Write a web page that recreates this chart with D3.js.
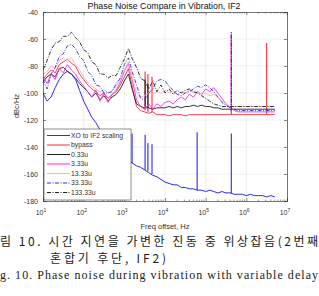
<!DOCTYPE html>
<html>
<head>
<meta charset="utf-8">
<script src="https://cdn.jsdelivr.net/npm/d3@7"></script>
<style>
body { margin: 0; background: #fff; }
svg { display: block; }
</style>
</head>
<body>
<div id="chart"></div>
<script>
// offset frequencies in Hz (shared by every trace)
const freqs = [
    10, 12.6, 15.8, 20, 25.1, 31.6, 39.8, 50.1, 63.1, 79.4,
    100, 126, 158, 200, 251, 316, 398, 501, 631, 794,
    1000, 1259, 1585, 1995, 2512, 3162, 3981, 5012, 6310, 7943,
    1e4, 12589, 15849, 19953, 25119, 31623, 39811, 50119, 63096, 79433,
    1e5, 125893, 158489, 199526, 251189, 316228, 398107, 501187, 630957, 794328,
    1e6, 1258925, 1584893, 1995262, 2511886, 3162278, 3981072, 5011872
];

const xo = [
    -100, -106, -103, -96, -90, -86, -84, -86, -90, -98,
    -106, -112, -118, -122, -127, -133, -137, -140, -143, -146,
    -148, -150, -152, -154, -155, -157, -159, -161, -162, -164,
    -166, -167, -168, -168, -170, -170, -171, -171, -172, -172,
    -173, -172, -173, -174, -173, -174, -174, -175, -175, -175,
    -176, -175, -176, -176, -176, -177, -176, -177
];
const bypass = [
    -90, -86, -83, -85, -79, -77, -75, -78, -80, -86,
    -90, -94, -97, -99, -102, -100, -104, -101, -99, -94,
    -88, -82, -96, -110, -113, -114, -115, -114, -116, -116,
    -116, -117, -116, -116, -116, -117, -116, -116, -116, -116,
    -116, -116, -116, -116, -116, -116, -116, -116, -116, -116,
    -116, -116, -116, -116, -116, -116, -116, -116
];
const d033 = [
    -92, -88, -86, -88, -82, -81, -84, -86, -89, -93,
    -96, -99, -103, -100, -105, -102, -106, -103, -101, -97,
    -91, -86, -98, -108, -110, -111, -111, -112, -111, -111,
    -111, -110, -111, -110, -111, -110, -110, -109, -110, -109,
    -110, -110, -111, -111, -112, -112, -112, -112, -112, -112,
    -112, -112, -112, -112, -112, -112, -112, -112
];
const d333 = [
    -88, -93, -86, -90, -82, -85, -79, -83, -86, -91,
    -95, -99, -103, -98, -106, -100, -107, -101, -98, -92,
    -84, -78, -91, -105, -110, -112, -108, -112, -108, -110,
    -107, -106, -108, -105, -103, -105, -101, -103, -99, -101,
    -97, -99, -96, -100, -104, -108, -111, -113, -114, -114,
    -114, -114, -114, -114, -114, -114, -114, -114
];
const d1333 = [
    -86, -84, -80, -82, -76, -74, -77, -74, -79, -83,
    -88, -92, -95, -97, -99, -97, -100, -98, -95, -90,
    -83, -77, -89, -100, -103, -102, -100, -101, -99, -100,
    -98, -100, -99, -101, -99, -100, -98, -100, -99, -101,
    -100, -102, -101, -103, -106, -108, -110, -110, -110, -110,
    -110, -110, -110, -110, -110, -110, -110, -110
];
const d3333 = [
    -90, -97, -86, -81, -73, -71, -65, -64, -67, -73,
    -76, -84, -87, -94, -95, -100, -100, -99, -93, -89,
    -79, -74, -85, -94, -104, -105, -100, -97, -91, -90,
    -91, -95, -98, -101, -102, -100, -99, -97, -95, -96,
    -94, -96, -99, -103, -107, -109, -111, -112, -113, -113,
    -113, -113, -113, -113, -113, -113, -113, -113
];
const d13333 = [
    -83, -76, -68, -63, -62, -58, -58, -55, -59, -62,
    -68, -70, -77, -79, -86, -86, -89, -87, -87, -81,
    -75, -67, -75, -81, -89, -91, -97, -91, -99, -94,
    -100, -97, -101, -98, -100, -98, -97, -99, -100, -102,
    -104, -106, -108, -109, -110, -110, -110, -110, -110, -110,
    -110, -110, -110, -110, -110, -110, -110, -110
];

// spurs: [freq Hz, floor dB, peak dB]
const xoSpurs = [[1550, -152, -130], [3240, -157, -131], [3800, -158, -137], [4790, -160, -138], [61700, -172, -129], [427000, -174, -130]];
const bypassSpurs = [[3240, -113, -84], [3800, -114, -86], [4790, -114, -88], [427000, -116, -58], [3162000, -116, -63]];
const d033Spurs = [[3240, -110, -90], [3800, -111, -93]];
const d333Spurs = [[427000, -114, -56]];
const d3333Spurs = [[427000, -113, -54]];

const names = ["XO to IF2 scaling", "bypass", "0.33u", "3.33u", "13.33u", "33.33u", "133.33u"];
const yTicks = [-40, -60, -80, -100, -120, -140, -160, -180];
const xTicks = [1e1, 1e2, 1e3, 1e4, 1e5, 1e6, 1e7];

const series = [
    { name: names[0], values: xo, spurs: xoSpurs, color: "#2b2bea", dash: null, w: 1 },
    { name: names[1], values: bypass, spurs: bypassSpurs, color: "#f2303a", dash: null, w: 0.9 },
    { name: names[2], values: d033, spurs: d033Spurs, color: "#1e1e1e", dash: null, w: 0.9 },
    { name: names[3], values: d333, spurs: d333Spurs, color: "#f22ee6", dash: null, w: 0.9 },
    { name: names[4], values: d1333, spurs: [], color: "#f6b2bd", dash: null, w: 0.9 },
    { name: names[5], values: d3333, spurs: d3333Spurs, color: "#2b2bea", dash: "4,1.5,1,1.5", w: 0.9 },
    { name: names[6], values: d13333, spurs: [], color: "#1e1e1e", dash: "4,1.5,1,1.5", w: 0.9 }
];

const width = 319, height = 296;
const pLeft = 43, pRight = 287, pTop = 12, pBottom = 201;

const svg = d3.select("#chart").append("svg")
    .attr("width", width)
    .attr("height", height)
    .style("font-family", "'Liberation Sans', Arial, sans-serif");

const x = d3.scaleLog().domain([10, 1e7]).range([pLeft, pRight]);
const y = d3.scaleLinear().domain([-180, -40]).range([pBottom, pTop]);

// grid
const grid = svg.append("g").attr("stroke", "#e4e4e4").attr("stroke-width", 0.6);
grid.selectAll(".gx").data(xTicks.slice(1, -1)).enter().append("line")
    .attr("x1", d => x(d)).attr("x2", d => x(d))
    .attr("y1", pTop).attr("y2", pBottom);
grid.selectAll(".gy").data(yTicks.slice(1, -1)).enter().append("line")
    .attr("x1", pLeft).attr("x2", pRight)
    .attr("y1", d => y(d)).attr("y2", d => y(d));

// traces
svg.append("clipPath").attr("id", "clip").append("rect")
    .attr("x", pLeft).attr("y", pTop).attr("width", pRight - pLeft).attr("height", pBottom - pTop);
const plot = svg.append("g").attr("clip-path", "url(#clip)");

const line = d3.line()
    .x((d, i) => x(freqs[i]))
    .y(d => y(d));

series.forEach(s => {
    plot.append("path")
        .attr("d", line(s.values))
        .attr("fill", "none")
        .attr("stroke", s.color)
        .attr("stroke-width", s.w)
        .attr("stroke-dasharray", s.dash)
        .attr("stroke-linejoin", "round");
    plot.selectAll(null).data(s.spurs).enter().append("line")
        .attr("x1", d => x(d[0])).attr("x2", d => x(d[0]))
        .attr("y1", d => y(d[1])).attr("y2", d => y(d[2]))
        .attr("stroke", s.color)
        .attr("stroke-width", 1.1)
        .attr("stroke-dasharray", s.dash);
});

// axes
const axisColor = "#3a3a3a";
const yAxis = svg.append("g")
    .attr("transform", `translate(${pLeft},0)`)
    .call(d3.axisLeft(y).tickValues(yTicks).tickSize(-3).tickPadding(5));
const yAxisR = svg.append("g")
    .attr("transform", `translate(${pRight},0)`)
    .call(d3.axisRight(y).tickValues(yTicks).tickSize(-3).tickFormat(""));
const xAxis = svg.append("g")
    .attr("transform", `translate(0,${pBottom})`)
    .call(d3.axisBottom(x).tickValues(xTicks).tickSize(-3).tickFormat(""));
const xAxisT = svg.append("g")
    .attr("transform", `translate(0,${pTop})`)
    .call(d3.axisTop(x).tickValues(xTicks).tickSize(-3).tickFormat(""));

[yAxis, yAxisR, xAxis, xAxisT].forEach(g => {
    g.select(".domain").attr("stroke", axisColor).attr("stroke-width", 0.7);
    g.selectAll(".tick line").attr("stroke", axisColor).attr("stroke-width", 0.6);
});

yAxis.selectAll(".tick text")
    .attr("font-size", 7)
    .attr("fill", "#333")
    .text(d => d);

// minor ticks on the log axis
const minor = [];
xTicks.slice(0, -1).forEach(t => { for (let k = 2; k <= 9; k++) minor.push(t * k); });
svg.append("g").selectAll("line").data(minor).enter().append("line")
    .attr("x1", d => x(d)).attr("x2", d => x(d))
    .attr("y1", pBottom).attr("y2", pBottom - 1.5)
    .attr("stroke", axisColor).attr("stroke-width", 0.5);
svg.append("g").selectAll("line").data(minor).enter().append("line")
    .attr("x1", d => x(d)).attr("x2", d => x(d))
    .attr("y1", pTop).attr("y2", pTop + 1.5)
    .attr("stroke", axisColor).attr("stroke-width", 0.5);

// x tick labels as 10^n
const xl = svg.append("g").attr("font-size", 7).attr("fill", "#333");
xTicks.forEach(t => {
    const txt = xl.append("text")
        .attr("x", x(t) - 2)
        .attr("y", pBottom + 14)
        .attr("text-anchor", "middle");
    txt.append("tspan").text("10");
    txt.append("tspan").attr("font-size", 5).attr("dy", -3).text(Math.round(Math.log10(t)));
});

svg.append("text")
    .attr("x", 165).attr("y", 229)
    .attr("text-anchor", "middle")
    .attr("font-size", 7.5)
    .attr("fill", "#333")
    .text("Freq offset, Hz");

svg.append("text")
    .attr("transform", "translate(19,106) rotate(-90)")
    .attr("text-anchor", "middle")
    .attr("font-size", 7.5)
    .attr("fill", "#333")
    .text("dBc/Hz");

svg.append("text")
    .attr("x", 164).attr("y", 8.5)
    .attr("text-anchor", "middle")
    .attr("font-size", 8.5)
    .attr("fill", "#111")
    .attr("textLength", 153)
    .attr("lengthAdjust", "spacingAndGlyphs")
    .text("Phase Noise Compare in Vibration, IF2");

// legend
const lg = svg.append("g");
lg.append("rect")
    .attr("x", 44).attr("y", 129).attr("width", 87).attr("height", 71)
    .attr("fill", "#fff").attr("stroke", "#444").attr("stroke-width", 0.6);
series.forEach((s, i) => {
    const ly = 135.5 + i * 9.5;
    lg.append("line")
        .attr("x1", 47).attr("x2", 70)
        .attr("y1", ly).attr("y2", ly)
        .attr("stroke", s.color)
        .attr("stroke-width", 1)
        .attr("stroke-dasharray", s.dash);
    lg.append("text")
        .attr("x", 71).attr("y", ly + 2.4)
        .attr("font-size", 6.8)
        .attr("fill", "#333")
        .text(s.name);
});

// caption (cropped from the paper page)
const cap = svg.append("g").attr("fill", "#1a1a1a");
cap.append("text")
    .attr("x", 0).attr("y", 246)
    .attr("font-family", "'Noto Sans CJK KR', sans-serif")
    .attr("font-size", 12)
    .attr("textLength", 318)
    .attr("lengthAdjust", "spacing")
    .text("림 10. 시간 지연을 가변한 진동 중 위상잡음(2번째");
cap.append("text")
    .attr("x", 50).attr("y", 263)
    .attr("font-family", "'Noto Sans CJK KR', sans-serif")
    .attr("font-size", 12)
    .attr("textLength", 116)
    .attr("lengthAdjust", "spacing")
    .text("혼합기 후단, IF2)");
cap.append("text")
    .attr("x", 0).attr("y", 279)
    .attr("font-family", "'Liberation Serif', 'Times New Roman', serif")
    .attr("font-size", 12)
    .attr("textLength", 318)
    .attr("lengthAdjust", "spacing")
    .text("g. 10. Phase noise during vibration with variable delay");
</script>
</body>
</html>
